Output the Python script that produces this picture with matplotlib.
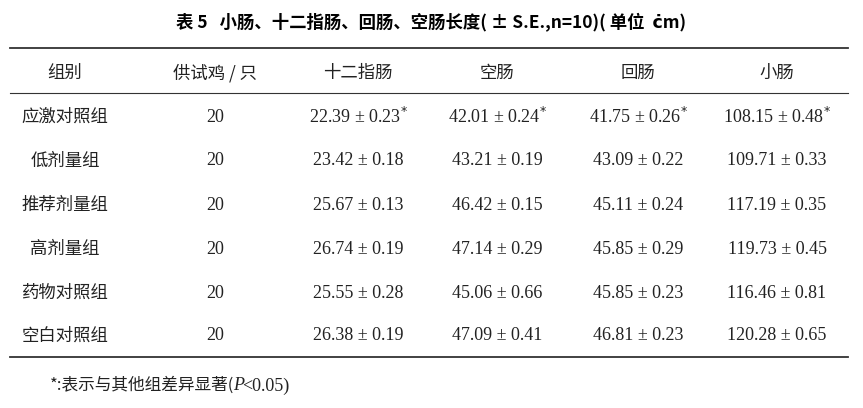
import matplotlib
matplotlib.use("Agg")
import matplotlib.pyplot as plt

title = "表 5   小肠、十二指肠、回肠、空肠长度( ± S.E.,n=10)( 单位  ċm)"
headers = ["组别", "供试鸡 / 只", "十二指肠", "空肠", "回肠", "小肠"]
groups = ["应激对照组", "低剂量组", "推荐剂量组", "高剂量组", "药物对照组", "空白对照组"]
counts = [20, 20, 20, 20, 20, 20]
duodenum = ["22.39 ± 0.23", "23.42 ± 0.18", "25.67 ± 0.13", "26.74 ± 0.19", "25.55 ± 0.28", "26.38 ± 0.19"]
jejunum = ["42.01 ± 0.24", "43.21 ± 0.19", "46.42 ± 0.15", "47.14 ± 0.29", "45.06 ± 0.66", "47.09 ± 0.41"]
ileum = ["41.75 ± 0.26", "43.09 ± 0.22", "45.11 ± 0.24", "45.85 ± 0.29", "45.85 ± 0.23", "46.81 ± 0.23"]
small = ["108.15 ± 0.48", "109.71 ± 0.33", "117.19 ± 0.35", "119.73 ± 0.45", "116.46 ± 0.81", "120.28 ± 0.65"]
sig = [True, False, False, False, False, False]
footnote = "*:表示与其他组差异显著("

W, H = 863, 408
fig = plt.figure(figsize=(W/100, H/100), dpi=100)
def fx(x): return x / W
def fy(y): return 1 - y / H

cjk = ['Noto Sans CJK SC', 'DejaVu Sans']
serif = ['Liberation Serif', 'DejaVu Serif']
c = '#222222'

fig.text(fx(431), fy(22), title, ha='center', va='center', fontsize=12.5, fontweight='bold', family=cjk)

for y, lw in [(48, 1.3), (93, 0.8), (357, 1.3)]:
    fig.add_artist(plt.Line2D([fx(10), fx(848)], [fy(y), fy(y)], color='#333333', lw=lw))

xs = [65, 215, 358, 497, 638, 777]
for x, h in zip(xs, headers):
    fig.text(fx(x), fy(73), h, ha='center', va='center', fontsize=12.5, family=cjk, color=c)

row_y = [117, 161, 205, 249, 293, 336]
for i, y in enumerate(row_y):
    fig.text(fx(xs[0]), fy(y), groups[i], ha='center', va='center', fontsize=12.5, family=cjk, color=c)
    fig.text(fx(xs[1]), fy(y), str(counts[i]), ha='center', va='center', fontsize=13, family=serif, color=c)
    for x, col in zip(xs[2:], [duodenum, jejunum, ileum, small]):
        t = col[i] + (r"$^{*}$" if sig[i] else "")
        fig.text(fx(x), fy(y), t, ha='center', va='center', fontsize=13, family=serif, color=c)

fig.text(fx(50), fy(385), footnote, ha='left', va='center', fontsize=12, family=cjk, color=c)
fig.text(fx(233), fy(386), "P", ha='left', va='center', fontsize=13, family=serif, style='italic', color=c)
fig.text(fx(242), fy(386), "<0.05)", ha='left', va='center', fontsize=13, family=serif, color=c)

fig.savefig("out.png", dpi=100, facecolor='white')
